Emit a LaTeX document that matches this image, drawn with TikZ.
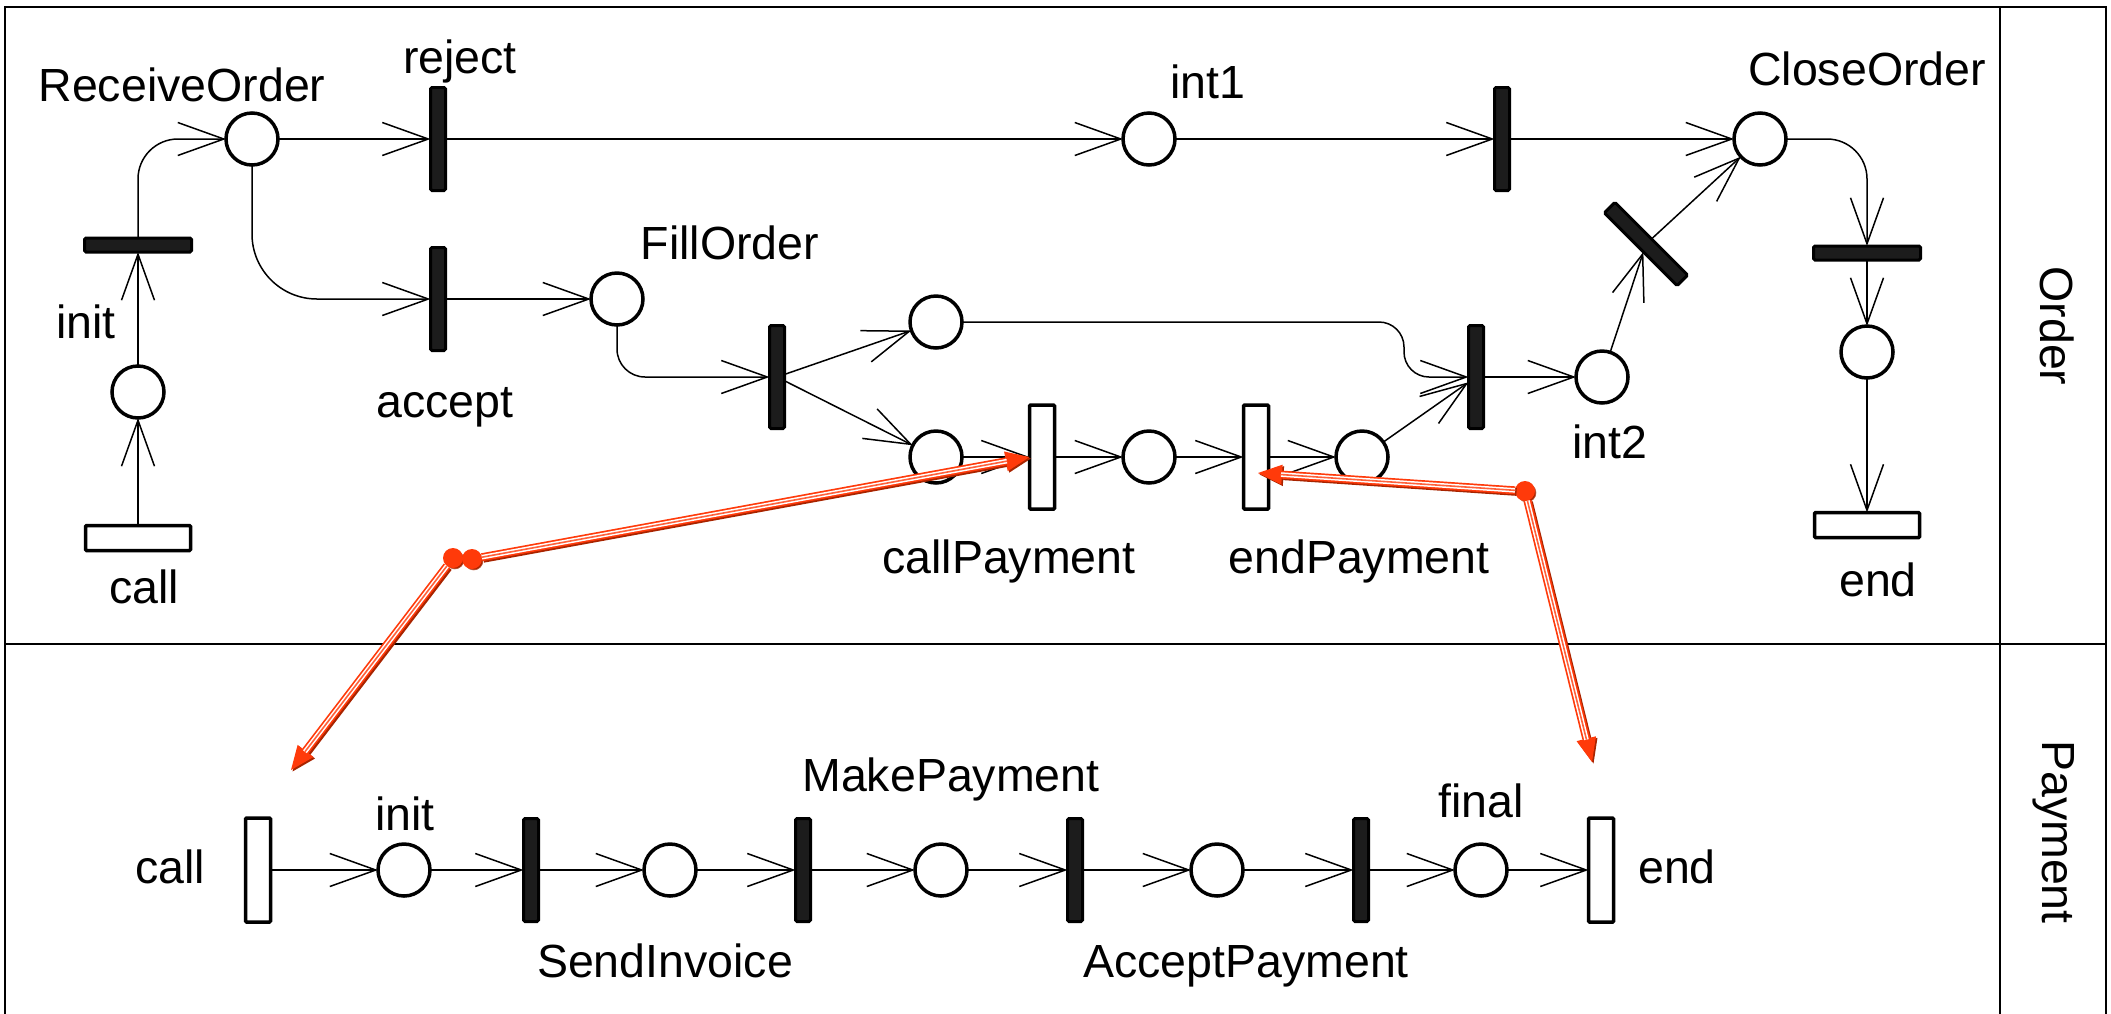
\documentclass[tikz,border=0pt]{standalone}
\usepackage{fontspec}
\setmainfont{Liberation Sans}
\usetikzlibrary{arrows.meta,calc,shadows}

\definecolor{barfill}{HTML}{1C1C1C}
\definecolor{linkred}{HTML}{FF3A0A}
\definecolor{linkdark}{HTML}{A82400}

% one red inter-net link: shadow, outer stroke with tip, white gap, red core
\newcommand\netlink[2]{%
  \draw[linkshadow] (#1) -- (#2);
  \draw[linkbase] (#1) -- (#2);
  \draw[linkgap] (#1) -- (#2);
  \draw[linkcore] (#1) -- (#2);}

\begin{document}
\begin{tikzpicture}[x=1pt,y=-1pt,
  every node/.style={inner sep=0pt, outer sep=0pt},
  place/.style={circle, draw=black, fill=white, line width=3.5pt, minimum size=52pt},
  tbar/.style={rectangle, draw=black, fill=barfill, line width=3pt, rounded corners=1.5pt,
               minimum width=15pt, minimum height=103pt},
  hbar/.style={tbar, minimum width=107pt, minimum height=14pt},
  wbar/.style={rectangle, draw=black, fill=white, line width=3.5pt, rounded corners=1pt,
               minimum width=25pt, minimum height=104pt},
  hwbar/.style={wbar, minimum width=105pt, minimum height=25pt},
  lbl/.style={font=\fontsize{46.5pt}{56pt}\selectfont, anchor=base},
  lane/.style={font=\fontsize{46.5pt}{56pt}\selectfont, rotate=-90},
  flow/.style={draw=black, line width=1.5pt,
               -{Straight Barb[length=46pt,width=33pt]}},
  linkbase/.style={draw=linkred, line width=8pt,
               -{Triangle[length=24pt,width=20pt,line width=0pt]}},
  linkshadow/.style={linkbase, draw=linkdark, transform canvas={shift={(1.5,1.5)}}},
  linkgap/.style={draw=white, line width=4.6pt, shorten >=23pt},
  linkcore/.style={draw=linkred!80!white, line width=1.6pt, shorten >=23pt},
  rdot/.style={circle, fill=linkred, minimum size=20pt,
               circular drop shadow={shadow xshift=1.5pt, shadow yshift=-1.5pt,
                                     fill=linkdark, opacity=1, shadow scale=1}},
]
\useasboundingbox (0,0) rectangle (2111,1013);

% swimlane frame
\draw[line width=2pt] (5,7) rectangle (2106,1030);
\draw[line width=1.8pt] (2000,7) -- (2000,1030);
\draw[line width=2pt] (5,644) -- (2106,644);
\node[lane] at (2057,326) {Order};
\node[lane] at (2054,832) {Payment};

% ---------------- Order net ----------------
\node[hwbar] (ocall) at (138,538) {};
\node[place] (op0) at (138,392) {};
\node[hbar] (oinit) at (138,245) {};
\node[place] (ro) at (252,139) {};
\node[tbar] (rej) at (438,139) {};
\node[place] (int1) at (1149,139) {};
\node[tbar] (t3) at (1502,139) {};
\node[place] (co) at (1760,139) {};
\node[hbar] (tc) at (1867,253) {};
\node[place] (oc) at (1867,352) {};
\node[hwbar] (oend) at (1867,525) {};
\node[tbar] (acc) at (438,299) {};
\node[place] (fo) at (617,299) {};
\node[tbar] (fork) at (777,377) {};
\node[place] (uc) at (936,322) {};
\node[place] (lc) at (936,457) {};
\node[wbar] (cp) at (1042,457) {};
\node[place] (pm) at (1149,457) {};
\node[wbar] (ep) at (1256,457) {};
\node[place] (pe) at (1362,457) {};
\node[tbar] (join) at (1476,377) {};
\node[place] (int2) at (1602,377) {};
\node[tbar, rotate=45] (db) at (1646,244) {};
\coordinate (sj) at (1404,377);

\node[lbl] at (182,101) {ReceiveOrder};
\node[lbl] at (460,73) {reject};
\node[lbl] at (1208,98) {int1};
\node[lbl] at (1867,85) {CloseOrder};
\node[lbl] at (86,338) {init};
\node[lbl] at (144,603) {call};
\node[lbl] at (445,417) {accept};
\node[lbl] at (730,259) {FillOrder};
\node[lbl] at (1009,573) {callPayment};
\node[lbl] at (1359,573) {endPayment};
\node[lbl] at (1610,458) {int2};
\node[lbl] at (1878,596) {end};

\draw[flow] (ocall) -- (op0);
\draw[flow] (op0) -- (oinit);
\draw[flow, rounded corners=40pt] (oinit) |- (ro);
\draw[flow] (ro) -- (rej);
\draw[flow] (rej) -- (int1);
\draw[flow] (int1) -- (t3);
\draw[flow] (t3) -- (co);
\draw[flow, rounded corners=40pt] (co) -| (tc);
\draw[flow] (tc) -- (oc);
\draw[flow] (oc) -- (oend);
\draw[flow, rounded corners=65pt] (ro) |- (acc);
\draw[flow] (acc) -- (fo);
\draw[flow, rounded corners=28pt] (fo) |- (fork);
\draw[flow] (fork) -- (uc);
\draw[flow] (fork) -- (lc);
\draw[flow, rounded corners=25pt] (uc) -- (uc -| sj) -- (sj) -- (join);
\draw[flow] (lc) -- (cp);
\draw[flow] (cp) -- (pm);
\draw[flow] (pm) -- (ep);
\draw[flow] (ep) -- (pe);
\draw[flow] (pe) -- (join);
\draw[flow] (join) -- (int2);
\draw[flow] (int2) -- (db);
\draw[flow] (db) -- (co);

% ---------------- Payment net ----------------
\node[wbar] (pcall) at (258,870) {};
\node[place] (pinit) at (404,870) {};
\node[tbar] (ps1) at (531,870) {};
\node[place] (pp1) at (670,870) {};
\node[tbar] (ps2) at (803,870) {};
\node[place] (pp2) at (941,870) {};
\node[tbar] (ps3) at (1075,870) {};
\node[place] (pp3) at (1217,870) {};
\node[tbar] (ps4) at (1361,870) {};
\node[place] (pfin) at (1481,870) {};
\node[wbar] (pend) at (1601,870) {};

\node[lbl] at (170,883) {call};
\node[lbl] at (405,830) {init};
\node[lbl] at (665,977) {SendInvoice};
\node[lbl] at (951,791) {MakePayment};
\node[lbl] at (1246,977) {AcceptPayment};
\node[lbl] at (1481,817) {final};
\node[lbl] at (1677,883) {end};

\draw[flow] (pcall) -- (pinit);
\draw[flow] (pinit) -- (ps1);
\draw[flow] (ps1) -- (pp1);
\draw[flow] (pp1) -- (ps2);
\draw[flow] (ps2) -- (pp2);
\draw[flow] (pp2) -- (ps3);
\draw[flow] (ps3) -- (pp3);
\draw[flow] (pp3) -- (ps4);
\draw[flow] (ps4) -- (pfin);
\draw[flow] (pfin) -- (pend);

% ---------------- links between the nets ----------------
\node[rdot] (d0) at (453,558) {};
\node[rdot] (d1) at (472,559) {};
\node[rdot] (d2) at (1525,491) {};
\coordinate (callin) at (291,770);
\coordinate (endout) at (1258,473);
\coordinate (endin) at (1592,762);

\netlink{d1}{cp.west}
\netlink{d0}{callin}
\netlink{d2}{endout}
\netlink{d2}{endin}
\end{tikzpicture}
\end{document}
